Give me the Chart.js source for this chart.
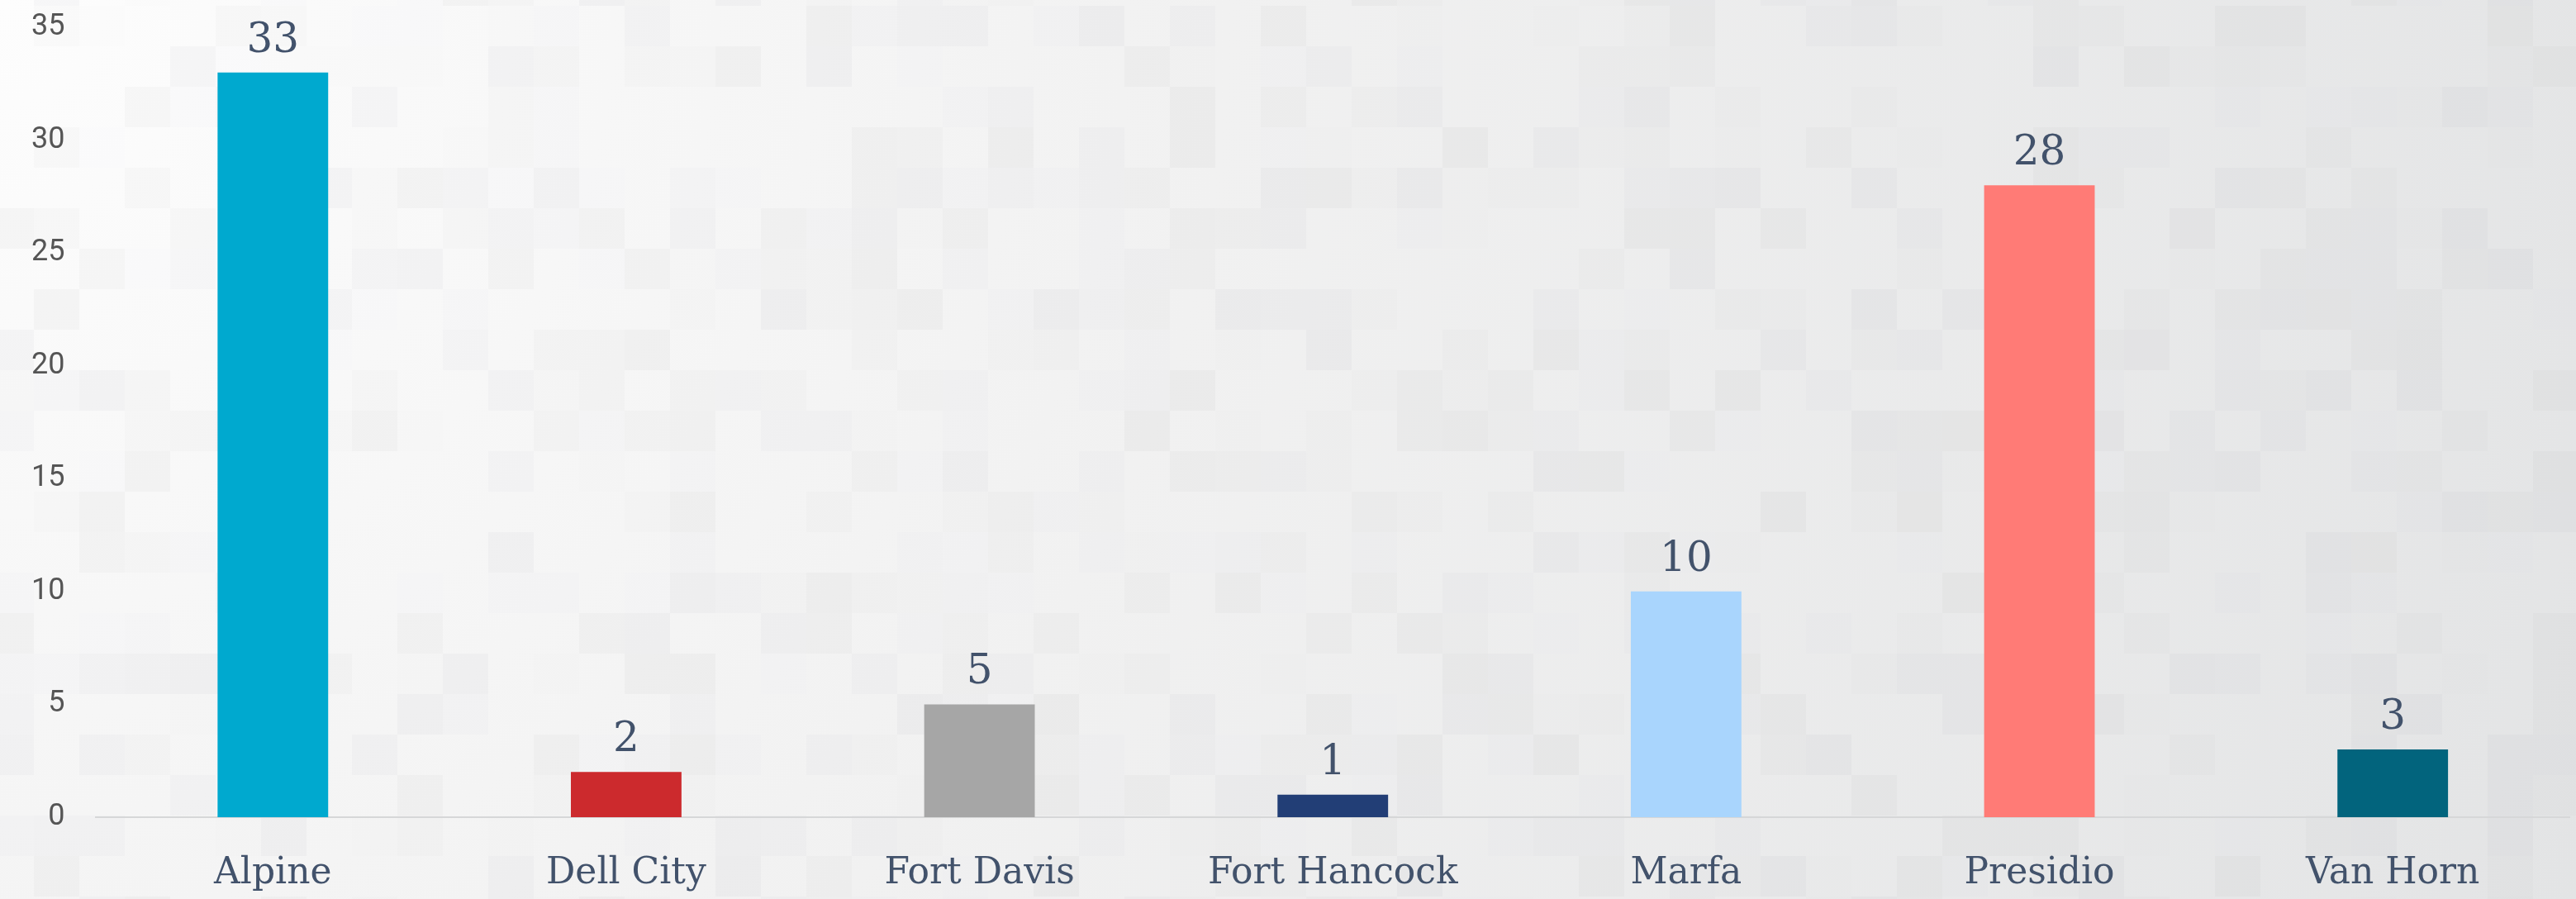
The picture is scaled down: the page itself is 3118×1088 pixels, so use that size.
<!DOCTYPE html>
<html>
<head>
<meta charset="utf-8">
<script src="https://cdn.jsdelivr.net/npm/chart.js@4.4.0/dist/chart.umd.min.js"></script>
<style>
  html, body { margin: 0; padding: 0; background: #f2f2f2; overflow: hidden; }
  #wrap { width: 3118px; height: 1088px; position: relative; }
</style>
</head>
<body>
<div id="wrap"><canvas id="towns"></canvas></div>
<script>
// ---------- data ----------
const towns  = ["Alpine", "Dell City", "Fort Davis", "Fort Hancock", "Marfa", "Presidio", "Van Horn"];
const counts = [33, 2, 5, 1, 10, 28, 3];
const barColors = ["#00a9cf", "#cc2a2d", "#a6a6a6", "#223e76", "#a9d5fd", "#ff7b76", "#02647d"];

const SLAB = "'DejaVu Serif', serif";
const TEXT = "#42526b";

/* ---------- mosaic background, painted before anything else ---------- */
const mosaicBg = {
  id: "mosaicBg",
  beforeDraw(chart) {
    const { ctx, width, height } = chart;
    ctx.save();
    const g = ctx.createRadialGradient(0, 0, 0, 0, 0, Math.hypot(width, height));
    g.addColorStop(0, "#fdfdfd");
    g.addColorStop(0.45, "#f1f1f1");
    g.addColorStop(1, "#e3e4e5");
    ctx.fillStyle = g;
    ctx.fillRect(0, 0, width, height);

    const cw = 55, ch = 49, ox = 41 - 55, oy = 7 - 49;
    const noise = (i, j) => {
      const s = Math.sin(i * 12.9898 + j * 78.233) * 43758.5453;
      return s - Math.floor(s);
    };
    for (let i = 0; ox + i * cw < width; i++) {
      for (let j = 0; oy + j * ch < height; j++) {
        const n = noise(i, j);
        if (n < 0.5) continue;
        ctx.fillStyle = `rgba(120,125,130,${((n - 0.5) * 0.1).toFixed(3)})`;
        ctx.fillRect(ox + i * cw, oy + j * ch, cw, ch);
      }
    }
    ctx.restore();
  }
};

/* ---------- value above each bar ---------- */
const valueLabels = {
  id: "valueLabels",
  afterDatasetsDraw(chart) {
    const { ctx } = chart;
    const meta = chart.getDatasetMeta(0);
    ctx.save();
    ctx.font = `50px ${SLAB}`;
    ctx.fillStyle = TEXT;
    ctx.textAlign = "center";
    ctx.textBaseline = "alphabetic";
    meta.data.forEach((bar, i) => {
      ctx.fillText(String(counts[i]), bar.x, bar.y - 25);
    });
    ctx.restore();
  }
};

new Chart(document.getElementById("towns"), {
  type: "bar",
  data: {
    labels: towns,
    datasets: [{
      data: counts,
      backgroundColor: barColors,
      borderWidth: 0,
      barPercentage: 0.313,
      categoryPercentage: 1
    }]
  },
  options: {
    responsive: true,
    maintainAspectRatio: false,
    animation: false,
    layout: { padding: { top: 33, left: 0, right: 8, bottom: 2 } },
    plugins: { legend: { display: false }, tooltip: { enabled: false } },
    scales: {
      x: {
        grid: { display: false, drawTicks: false },
        border: { display: true, color: "#d6d7d8", width: 2 },
        ticks: { color: TEXT, padding: 42, font: { family: SLAB, size: 44 } },
        // pin the band under the axis line to the height of the labels
        afterFit(scale) { scale.height = 97; }
      },
      y: {
        min: 0,
        max: 35,
        grid: { display: false, drawTicks: false },
        border: { display: false },
        ticks: { stepSize: 5, color: "#555", padding: 38, font: { family: "Roboto", size: 36 } },
        // the tick padding would otherwise also be added above and below the axis
        afterFit(scale) { scale.paddingTop = 0; scale.paddingBottom = 0; }
      }
    }
  },
  plugins: [mosaicBg, valueLabels]
});
</script>
</body>
</html>
